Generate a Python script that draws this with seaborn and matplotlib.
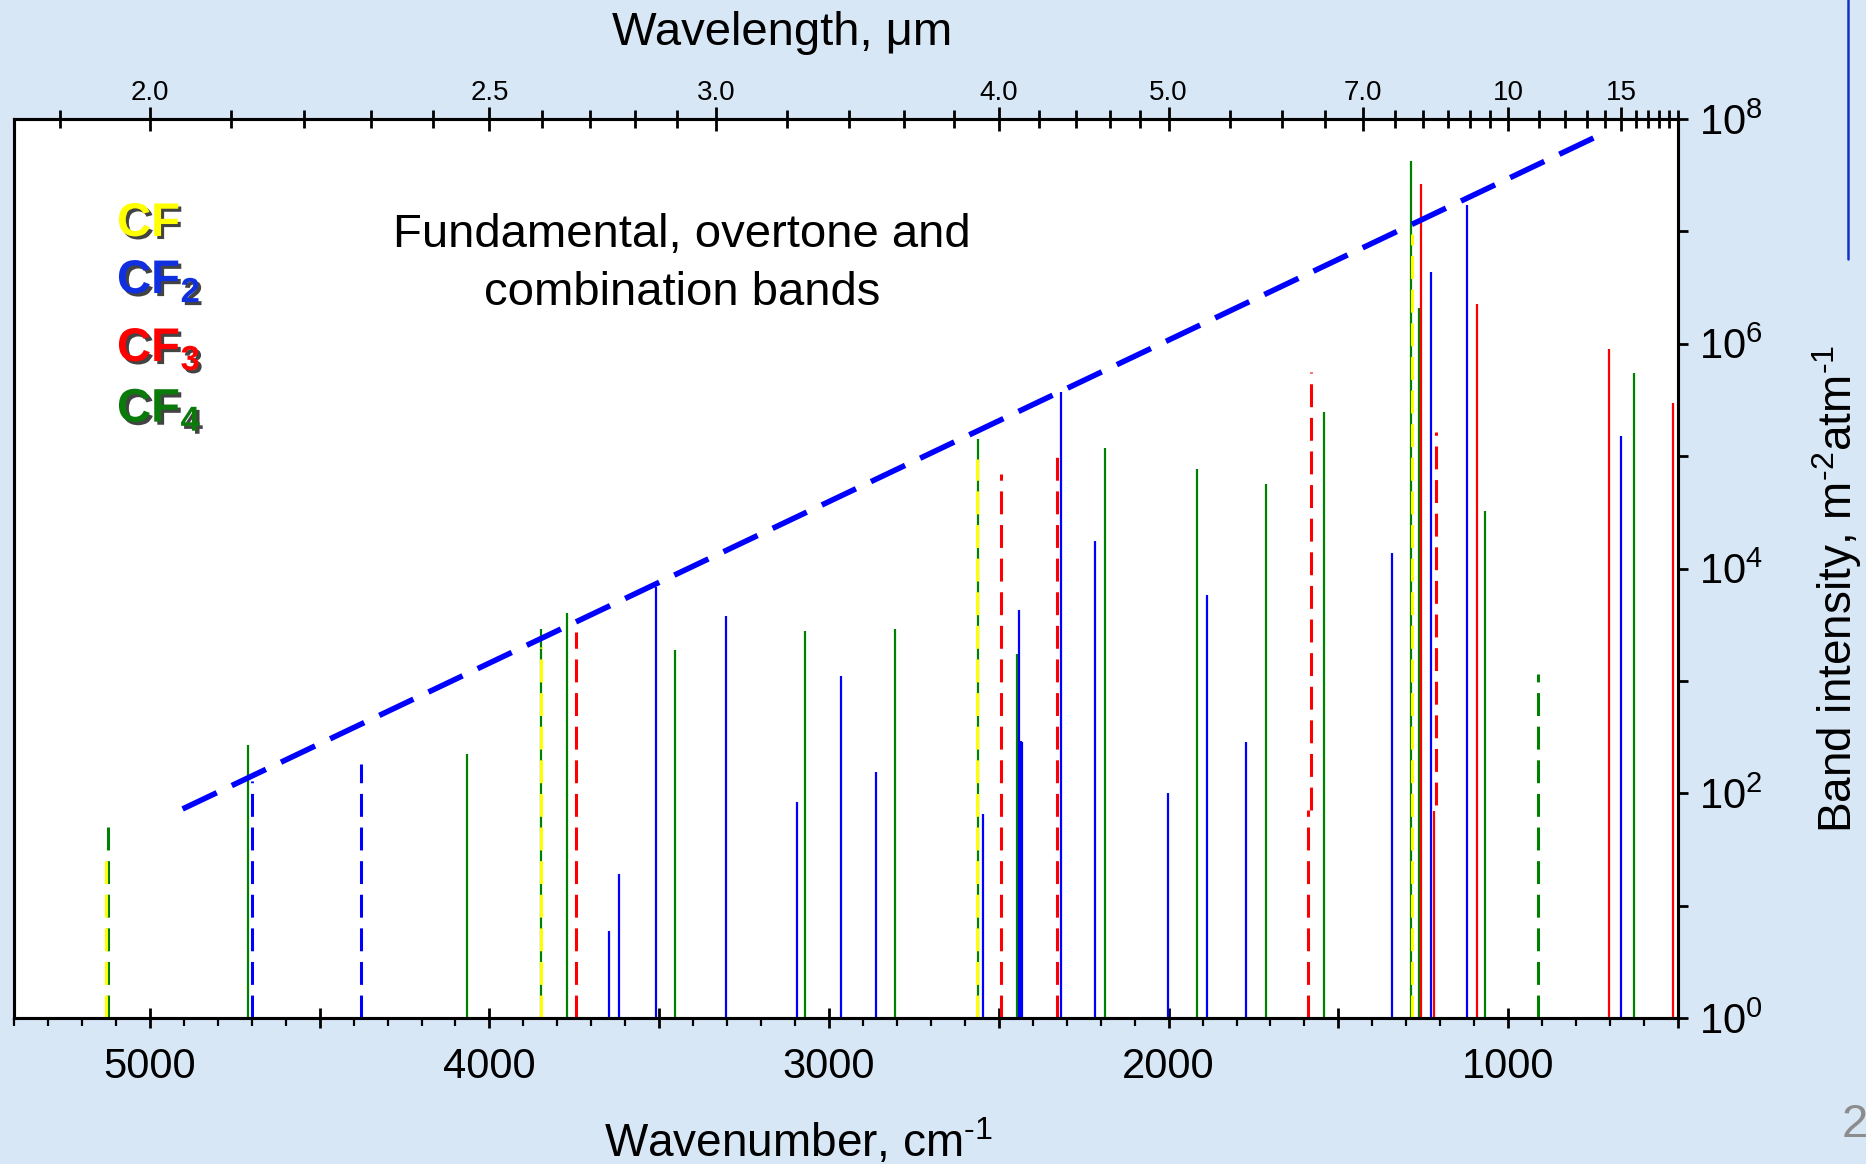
import numpy as np
import seaborn as sns
import matplotlib.pyplot as plt
import matplotlib.patheffects as pe
from matplotlib.ticker import FixedLocator, FixedFormatter, FuncFormatter, MultipleLocator, NullLocator

# band positions (cm-1) and intensities (m-2 atm-1)
# CF : fundamental and overtones (yellow, dashed)
cf_wn = [5129, 3847, 2565, 1283]
cf_int = [29, 2000, 9.5e4, 9.5e6]

# CF2 (blue)
cf2_wn = [3648, 3618, 3510, 3303, 3095, 2965, 2863, 2548, 2441, 2436, 2433, 2318,
          2218, 2002, 1888, 1772, 1342, 1228, 1120, 667]
cf2_int = [6.0, 19, 6900, 3760, 83, 1100, 154, 66, 4300, 290, 285, 3.7e5,
           1.75e4, 100, 5780, 287, 1.37e4, 4.36e6, 1.71e7, 1.5e5]
cf2_dash_wn = [4699, 4377]
cf2_dash_int = [128, 181]

# CF3 (red)
cf3_wn = [1256, 1219, 1091, 702, 515]
cf3_int = [2.62e7, 70, 2.25e6, 8.95e5, 2.94e5]
cf3_dash_wn = [3744, 2494, 2329, 1589, 1581, 1214]
cf3_dash_low = [1, 1, 1, 1, 71, 79]
cf3_dash_int = [2710, 7.0e4, 1.09e5, 71, 5.6e5, 1.65e5]

# CF4 (green)
cf4_wn = [4711, 4065, 3849, 3771, 3454, 3072, 2807, 2561, 2447, 2188, 1915, 1714,
          1543, 1285, 1263, 1069, 631]
cf4_int = [267, 222, 2920, 4000, 1900, 2780, 2920, 1.41e5, 1720, 1.17e5, 7.7e4, 5.6e4,
           2.47e5, 4.2e7, 2.09e6, 3.27e4, 5.44e5]
cf4_dash_wn = [5123, 913]
cf4_dash_int = [51, 1140]

# upper envelope of the band intensities
trend_wn = [4914, 749]
trend_int = [70, 6.77e7]

# wavelength axis (um)
top_major_um = [2.0, 2.5, 3.0, 4.0, 5.0, 7.0, 10, 15]
top_major_lbl = ['2.0', '2.5', '3.0', '4.0', '5.0', '7.0', '10', '15']
top_minor_um = [1.9, 2.1, 2.2, 2.3, 2.4, 2.6, 2.7, 2.8, 2.9, 3.2, 3.4, 3.6, 3.8,
                4.2, 4.4, 4.6, 4.8, 5.5, 6.0, 6.5, 7.5, 8.0, 8.5, 9.0, 9.5,
                11, 12, 13, 14, 16, 17, 18, 19, 20]

# legend labels
species = ['CF', 'CF', 'CF', 'CF']
species_sub = ['', '2', '3', '4']

YELLOW = '#ffff00'
BLUE = '#0000ff'
RED = '#ff0000'
GREEN = '#008000'
BG = '#d8e7f6'

sns.set_theme(style='ticks', rc={'axes.edgecolor': 'black', 'xtick.color': 'black',
                                 'ytick.color': 'black', 'text.color': 'black',
                                 'axes.labelcolor': 'black'})
plt.rcParams['font.family'] = ['Liberation Sans', 'DejaVu Sans']
plt.rcParams['mathtext.fontset'] = 'custom'
plt.rcParams['mathtext.rm'] = 'Liberation Sans'
plt.rcParams['mathtext.it'] = 'Liberation Sans:italic'
plt.rcParams['mathtext.bf'] = 'Liberation Sans:bold'

DASH = (0, (7.5, 3.5))


def stems(ax, wn, top, color, lw=1.6, dashed=False, low=None, z=2):
    if low is None:
        low = np.ones(len(wn))
    ax.vlines(wn, low, top, colors=color, linewidth=lw,
              linestyles=DASH if dashed else 'solid', zorder=z)


fig = plt.figure(figsize=(18.66, 11.64), dpi=100)
fig.patch.set_facecolor(BG)
ax = fig.add_axes([14 / 1866, 1 - 1018 / 1164, 1664 / 1866, 899 / 1164])
ax.set_facecolor('white')

#bands
stems(ax, cf4_wn, cf4_int, GREEN)
stems(ax, cf4_dash_wn, cf4_dash_int, GREEN, lw=2.2, dashed=True)
stems(ax, cf2_wn, cf2_int, BLUE)
stems(ax, cf2_dash_wn, cf2_dash_int, BLUE, lw=2.2, dashed=True)
stems(ax, cf3_wn, cf3_int, RED)
stems(ax, cf3_dash_wn, cf3_dash_int, RED, lw=2.2, dashed=True, low=cf3_dash_low)
stems(ax, cf_wn, cf_int, YELLOW, lw=2.2, dashed=True, z=3)

#envelope
sns.lineplot(x=trend_wn, y=trend_int, ax=ax, color=BLUE, linewidth=4.0,
             linestyle=(0, (6.8, 3.0)), zorder=4)

ax.set_yscale('log')
ax.set_ylim(1, 1e8)
ax.set_xlim(5400, 500)
ax.set_xlabel('')
ax.set_ylabel('')

# bottom axis: wavenumber
ax.xaxis.set_major_locator(MultipleLocator(500))
ax.xaxis.set_minor_locator(MultipleLocator(100))
ax.xaxis.set_major_formatter(FuncFormatter(lambda v, p: '%d' % v if v % 1000 == 0 else ''))
ax.tick_params(axis='x', which='major', direction='inout', length=14, width=2,
               labelsize=30, pad=14)
ax.tick_params(axis='x', which='minor', direction='out', length=6, width=1.6)

# right axis: intensity
ax.yaxis.tick_right()
ax.yaxis.set_major_locator(FixedLocator(10.0 ** np.arange(0, 9)))
ax.yaxis.set_minor_locator(NullLocator())
ax.yaxis.set_major_formatter(FuncFormatter(
    lambda v, p: r'$10^{%d}$' % round(np.log10(v)) if round(np.log10(v)) % 2 == 0 else ''))
ax.tick_params(axis='y', which='major', direction='out', length=7, width=2,
               labelsize=30, pad=8, left=False, right=True)

# top axis: wavelength
ax2 = ax.twiny()
ax2.set_xlim(ax.get_xlim())
ax2.xaxis.set_major_locator(FixedLocator([1e4 / u for u in top_major_um]))
ax2.xaxis.set_major_formatter(FixedFormatter(top_major_lbl))
ax2.xaxis.set_minor_locator(FixedLocator([1e4 / u for u in top_minor_um]))
ax2.tick_params(axis='x', which='major', direction='inout', length=17, width=2,
                labelsize=20, pad=1)
ax2.tick_params(axis='x', which='minor', direction='inout', length=13, width=2)

for a in (ax, ax2):
    for s in a.spines.values():
        s.set_linewidth(2.2)
        s.set_color('black')

# texts
fig.text(782 / 1866, 1 - 33 / 1164, u'Wavelength, \u03bcm', ha='center', va='center', fontsize=34)
fig.text(798 / 1866, 7 / 1164, r'Wavenumber, cm$^{\text{-1}}$', ha='center', va='baseline', fontsize=33)
fig.text(1837 / 1866, 1 - 589 / 1164, r'Band intensity, m$^{\text{-2}}$atm$^{\text{-1}}$',
         ha='center', va='center', rotation=90, fontsize=33)

ax.text(0.4014, 0.8576, 'Fundamental, overtone and', transform=ax.transAxes,
        ha='center', va='baseline', fontsize=34)
ax.text(0.4014, 0.7931, 'combination bands', transform=ax.transAxes,
        ha='center', va='baseline', fontsize=34)

# coloured species labels with drop shadow, subscript drawn as its own text
shadow = [pe.SimplePatchShadow(offset=(2.2, -2.2), shadow_rgbFace='#222222', alpha=0.85), pe.Normal()]
legend_col = ['#ffff00', '#1030e0', '#ff0000', '#0a7a0a']
legend_y = [0.8699, 0.8064, 0.7308, 0.6633]
fig.canvas.draw()
renderer = fig.canvas.get_renderer()
for lbl, sub, col, yy in zip(species, species_sub, legend_col, legend_y):
    t = ax.text(0.0619, yy, lbl, transform=ax.transAxes, color=col, fontsize=34,
                fontweight='bold', ha='left', va='baseline', path_effects=shadow, zorder=6)
    if sub:
        bb = t.get_window_extent(renderer)
        xe = ax.transAxes.inverted().transform((bb.x1, bb.y0))[0]
        ax.text(xe + 0.0004, yy - 9 / 899, sub, transform=ax.transAxes, color=col, fontsize=25,
                fontweight='bold', ha='left', va='baseline', path_effects=shadow, zorder=6)

# slide decorations
fig.add_artist(plt.Line2D([1848 / 1866] * 2, [1, 1 - 259 / 1164], transform=fig.transFigure,
                          color='#1034c8', linewidth=1.8))
fig.text(1842 / 1866, 1 - 1137 / 1164, '2', color='#8c8c8c', fontsize=34, ha='left', va='baseline')

fig.savefig('out.png', dpi=100, facecolor=fig.get_facecolor())
